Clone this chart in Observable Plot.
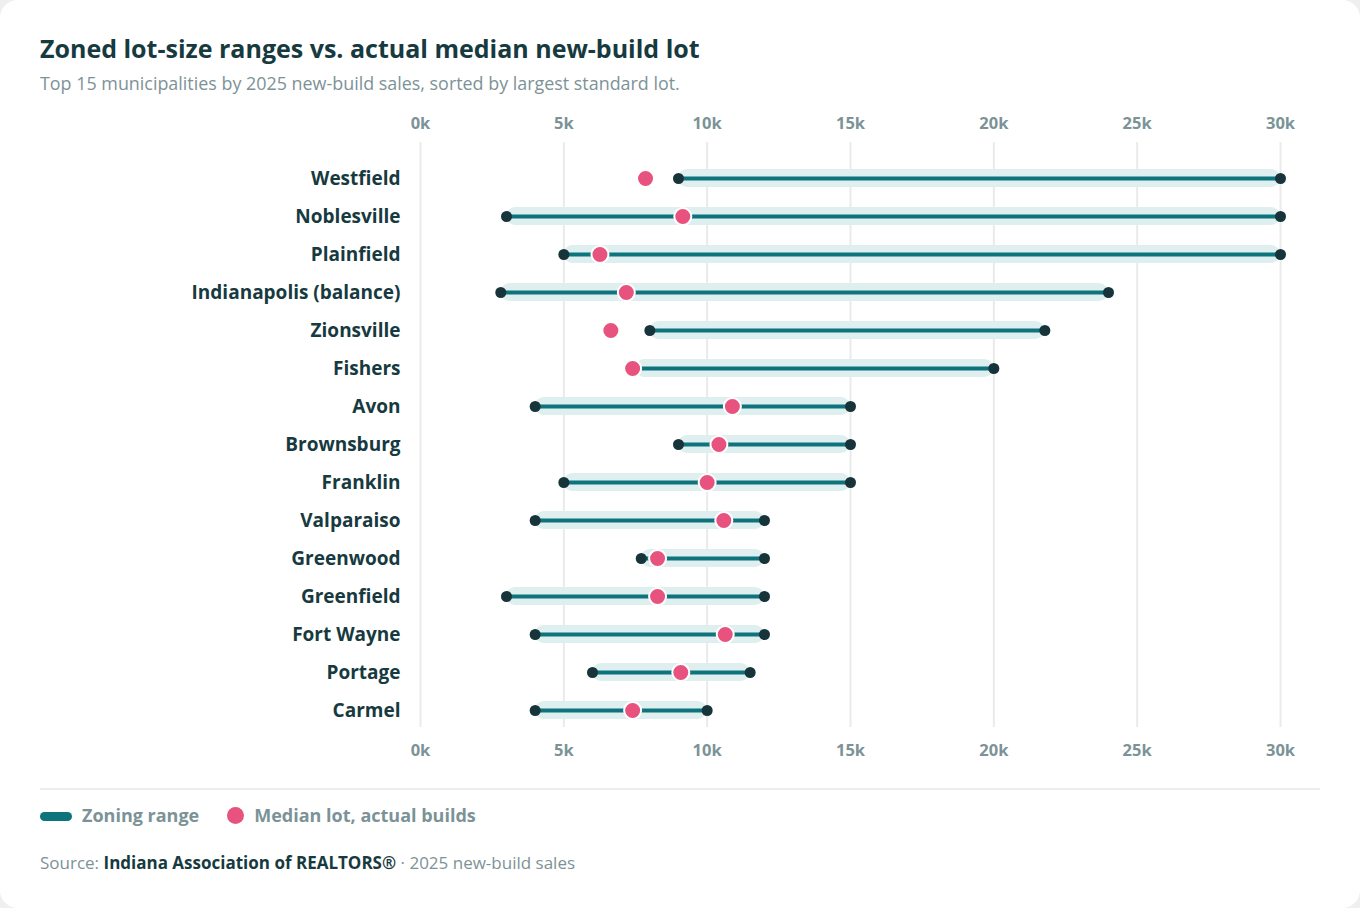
<!DOCTYPE html>
<html><head><meta charset="utf-8">
<script src="https://cdn.jsdelivr.net/npm/d3@7"></script>
<script src="https://cdn.jsdelivr.net/npm/@observablehq/plot@0.6"></script>
<style>
html,body{margin:0;padding:0;background:#eef0f0;}
body{width:1360px;height:908px;overflow:hidden;font-family:"Open Sans",sans-serif;position:relative;}
.card{position:absolute;left:0;top:0;width:1360px;height:908px;background:#fff;border-radius:18px;}
.title{position:absolute;left:40px;top:32px;font-size:25px;font-weight:700;color:#173a40;line-height:32px;white-space:nowrap;}
.subtitle{position:absolute;left:40px;top:72px;font-size:17.9px;color:#7d9296;line-height:22px;white-space:nowrap;}
#chart{position:absolute;left:40px;top:100px;}
.sep{position:absolute;left:40px;top:788px;width:1280px;height:2px;background:#eceeee;}
.legend{position:absolute;left:40px;top:803px;height:24px;font-size:18px;font-weight:700;color:#7b9397;line-height:24px;white-space:nowrap;}
.legend .sw{display:inline-block;width:32px;height:9px;border-radius:5px;background:#0d737c;vertical-align:middle;margin-right:10px;position:relative;top:-1px;}
.legend .pk{display:inline-block;width:17px;height:17px;border-radius:50%;background:#e8527e;vertical-align:middle;margin-left:28px;margin-right:10px;position:relative;top:-2px;}
.source{position:absolute;left:40px;top:851px;font-size:17px;color:#7d9296;line-height:24px;white-space:nowrap;}
.source b{color:#173a40;font-weight:700;}
</style>
</head><body>
<div class="card">
<div class="title">Zoned lot-size ranges vs. actual median new-build lot</div>
<div class="subtitle">Top 15 municipalities by 2025 new-build sales, sorted by largest standard lot.</div>
<div id="chart"></div>
<div class="sep"></div>
<div class="legend"><span class="sw"></span>Zoning range<span class="pk"></span>Median lot, actual builds</div>
<div class="source">Source: <b>Indiana Association of REALTORS®</b> · 2025 new-build sales</div>
</div>
<script>
const names = ["Westfield","Noblesville","Plainfield","Indianapolis (balance)","Zionsville","Fishers","Avon","Brownsburg","Franklin","Valparaiso","Greenwood","Greenfield","Fort Wayne","Portage","Carmel"];
const zoneMin = [9000,3000,5000,2800,8000,7500,4000,9000,5000,4000,7700,3000,4000,6000,4000];
const zoneMax = [30000,30000,30000,24000,21780,20000,15000,15000,15000,12000,12000,12000,12000,11500,10000];
const medianLot = [7850,9150,6260,7180,6640,7400,10880,10410,10000,10580,8270,8270,10630,9080,7400];
const xTicks = [0,5000,10000,15000,20000,25000,30000];

const rows = names.map((name,i)=>({name, min:zoneMin[i], max:zoneMax[i], median:medianLot[i]}));
const ends = rows.flatMap(r=>[{name:r.name, v:r.min},{name:r.name, v:r.max}]);

const fmt = d => (d/1000) + "k";
const chart = Plot.plot({
  width: 1280, height: 670,
  marginLeft: 380, marginRight: 40, marginTop: 42, marginBottom: 43,
  style: {fontFamily: "'Open Sans', sans-serif", background: "transparent"},
  x: {domain: [0, 30000], label: null},
  y: {type: "band", domain: names, range: [49, 639], padding: 0.526, label: null},
  marks: [
    Plot.gridX(xTicks, {stroke: "#e9ebeb", strokeOpacity: 1, strokeWidth: 2}),
    Plot.axisX(xTicks, {anchor: "top", tickSize: 0, tickPadding: 14, tickFormat: fmt, fill: "#7b9397", fontSize: 16.5, fontWeight: 700, label: null}),
    Plot.axisX(xTicks, {anchor: "bottom", tickSize: 0, tickPadding: 17, tickFormat: fmt, fill: "#7b9397", fontSize: 16.5, fontWeight: 700, label: null}),
    Plot.axisY({tickSize: 0, tickPadding: 20, fill: "#173a40", fontSize: 19, fontWeight: 700, label: null}),
    Plot.barX(rows, {y: "name", x1: "min", x2: "max", fill: "#dfeeee", rx: 9}),
    Plot.ruleY(rows, {y: "name", x1: "min", x2: "max", stroke: "#0d737c", strokeWidth: 4}),
    Plot.dot(ends, {y: "name", x: "v", r: 5.5, fill: "#17343b"}),
    Plot.dot(rows, {y: "name", x: "median", r: 8.5, fill: "#e8527e", stroke: "#fff", strokeWidth: 2})
  ]
});
document.getElementById("chart").appendChild(chart);
</script>
</body></html>
